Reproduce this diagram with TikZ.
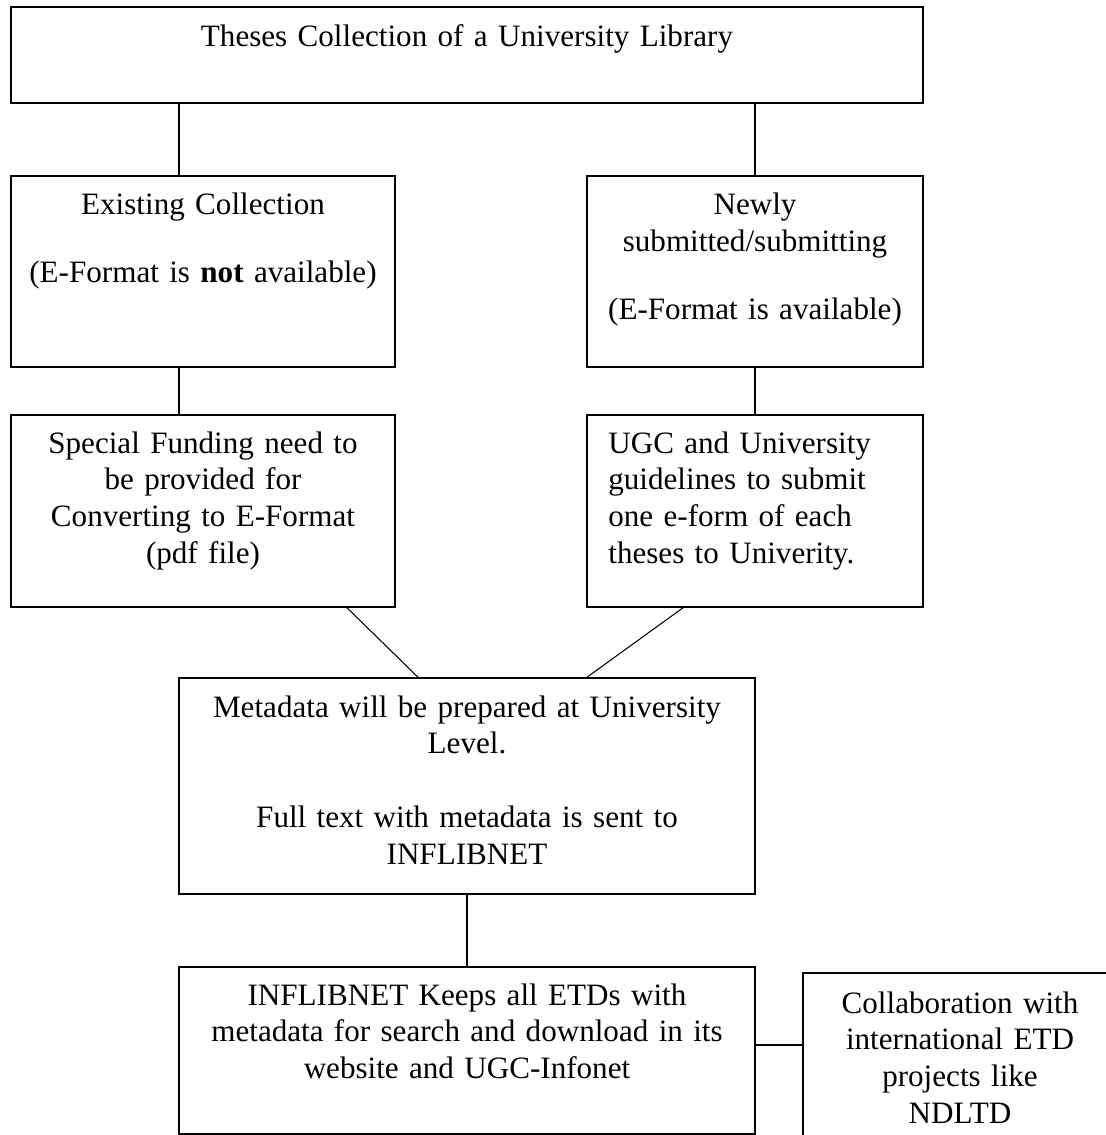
\documentclass[tikz,border=0pt]{standalone}
\usepackage{fontspec}
\setmainfont{Liberation Serif}

\begin{document}
\begin{tikzpicture}[box/.style={draw, line width=0.9pt, inner sep=0pt},
  txt/.style={inner sep=0pt, font=\fontsize{17.7pt}{20.9pt}\selectfont},
  link/.style={line width=0.6pt}]

\useasboundingbox (0,0) rectangle (22.1,-22.7);

% top
\node[box, minimum width=18.24cm, minimum height=1.92cm] (lib) at (9.34,-1.1) {};
\node[txt, anchor=base, text width=17cm, align=center] (libT) at (9.34,-0.93) {Theses Collection of a University Library};

% second row
\node[box, minimum width=7.68cm, minimum height=3.82cm] (exist) at (4.06,-5.43) {};
\node[txt, anchor=base, text width=7.2cm, align=center] (existT) at (4.06,-4.3) {Existing Collection\\[0.62cm] (E-Format is \textbf{not} available)};

\node[box, minimum width=6.72cm, minimum height=3.82cm] (newly) at (15.1,-5.43) {};
\node[txt, anchor=base, text width=6.3cm, align=center] (newlyT) at (15.1,-4.3) {Newly\\ submitted/submitting\\[0.62cm] (E-Format is available)};

% third row
\node[box, minimum width=7.68cm, minimum height=3.84cm] (fund) at (4.06,-10.22) {};
\node[txt, anchor=base, text width=7.2cm, align=center] (fundT) at (4.06,-9.06) {Special Funding need to\\ be provided for\\ Converting to E-Format\\ (pdf file)};

\node[box, minimum width=6.72cm, minimum height=3.84cm] (ugc) at (15.1,-10.22) {};
\node[txt, anchor=base west, text width=6.2cm, align=left] (ugcT) at (12.16,-9.06) {UGC and University\\ guidelines to submit\\ one e-form of each\\ theses to Univerity.};

% metadata
\node[box, minimum width=11.52cm, minimum height=4.32cm] (meta) at (9.34,-15.72) {};
\node[txt, anchor=base, text width=11cm, align=center] (metaT) at (9.34,-14.34) {Metadata will be prepared at University\\ Level.\\[0.74cm] Full text with metadata is sent to\\ INFLIBNET};

% bottom
\node[box, minimum width=11.52cm, minimum height=3.34cm] (infl) at (9.34,-21.01) {};
\node[txt, anchor=base, text width=11cm, align=center] (inflT) at (9.34,-20.1) {INFLIBNET Keeps all ETDs with\\ metadata for search and download in its\\ website and UGC-Infonet};

\node[box, minimum width=6.28cm, minimum height=3.54cm] (collab) at (19.2,-21.23) {};
\node[txt, anchor=base, text width=6cm, align=center] (collabT) at (19.2,-20.26) {Collaboration with\\ international ETD\\ projects like\\ NDLTD};

\coordinate (lcol) at (3.58,0);

\draw[link] (lib.south -| lcol) -- (exist.north -| lcol);
\draw[link] (lib.south -| newly.north) -- (newly.north);
\draw[link] (exist.south -| lcol) -- (fund.north -| lcol);
\draw[link] (newly.south) -- (ugc.north);
\draw[link] ([xshift=2.88cm]fund.south) -- ([xshift=-0.98cm]meta.north);
\draw[link] ([xshift=-1.44cm]ugc.south) -- ([xshift=2.4cm]meta.north);
\draw[link] (meta.south) -- (infl.north);
\draw[link] ([yshift=0.11cm]infl.east) -- ([yshift=0.11cm]infl.east -| collab.west);

\end{tikzpicture}
\end{document}
